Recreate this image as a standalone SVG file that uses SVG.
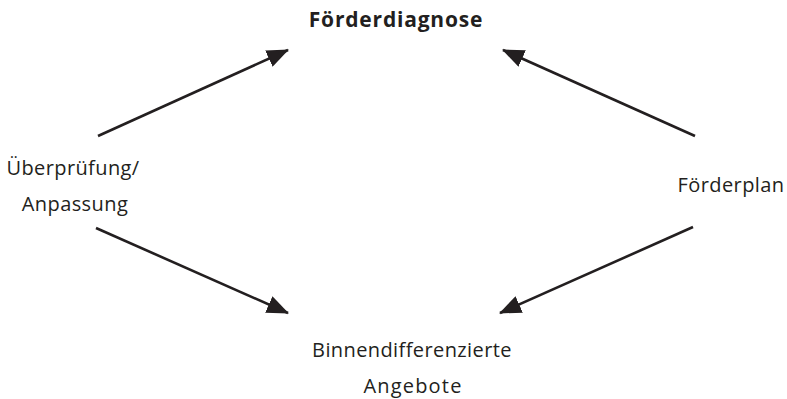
<svg xmlns="http://www.w3.org/2000/svg" width="787" height="399" viewBox="0 0 787 399">
<style>
text{font-family:"Open Sans","Noto Sans","Liberation Sans",sans-serif;font-size:20px;letter-spacing:0.4px;fill:#231f20}
.b{font-weight:bold;font-size:21px;letter-spacing:0.8px}
.w{letter-spacing:1.2px}
.c line{stroke:#231f20;stroke-width:2.6}
</style>
<defs>
<marker id="a" viewBox="0 0 22 18" refX="21" refY="9" markerWidth="22" markerHeight="18" markerUnits="userSpaceOnUse" orient="auto">
<path d="M0,0L22,9L0,18z" fill="#231f20"/>
</marker>
</defs>
<rect width="787" height="399" fill="#fff"/>
<g class="c" id="connectors">
<line x1="98" y1="136" x2="288" y2="50" marker-end="url(#a)"/>
<line x1="695" y1="136" x2="503" y2="50" marker-end="url(#a)"/>
<line x1="96" y1="228" x2="288" y2="313" marker-end="url(#a)"/>
<line x1="693" y1="227" x2="500" y2="313" marker-end="url(#a)"/>
</g>
<g id="foerderdiagnose"><text class="b" x="396" y="27" text-anchor="middle">Förderdiagnose</text></g>
<g id="ueberpruefung"><text x="73" y="175" text-anchor="middle">Überprüfung/</text><text x="75" y="211" text-anchor="middle">Anpassung</text></g>
<g id="foerderplan"><text x="731" y="192" text-anchor="middle">Förderplan</text></g>
<g id="angebote"><text x="412" y="357" text-anchor="middle">Binnendifferenzierte</text><text class="w" x="413" y="393" text-anchor="middle">Angebote</text></g>
</svg>
